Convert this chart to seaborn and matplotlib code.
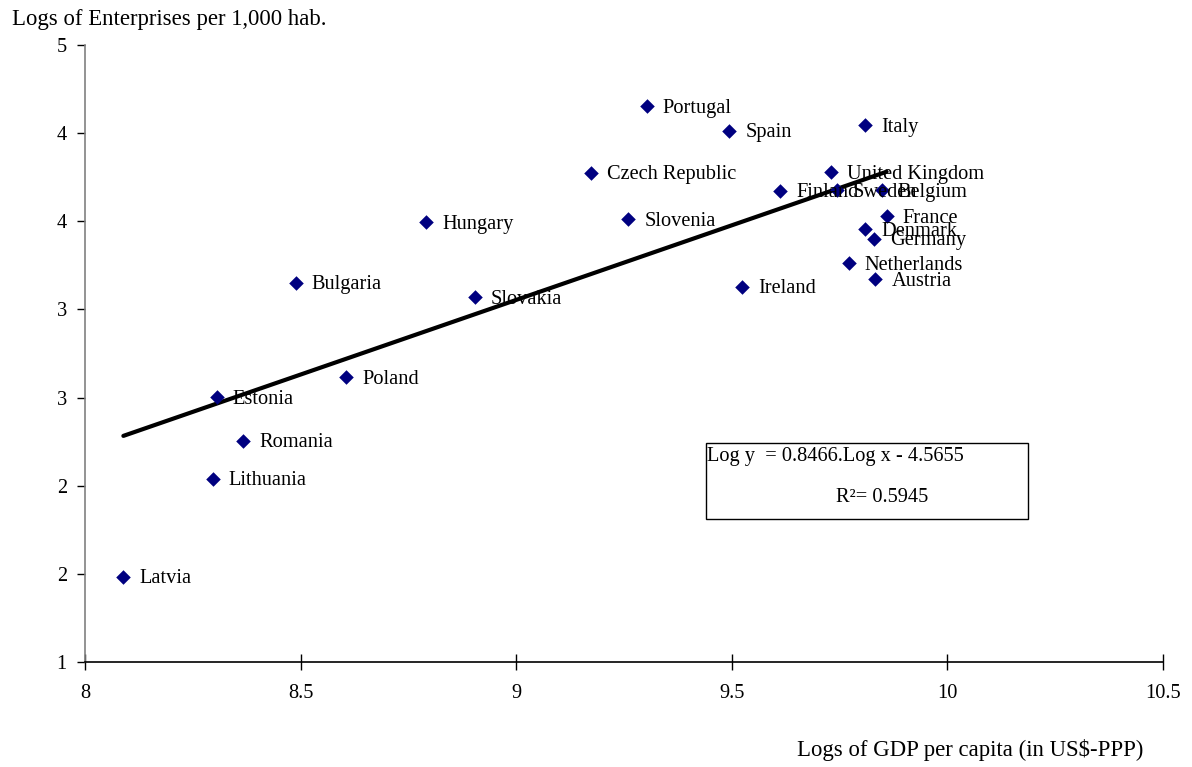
import numpy as np
import pandas as pd
import matplotlib
matplotlib.use("Agg")
import matplotlib.pyplot as plt
from matplotlib.patches import Rectangle
from matplotlib.ticker import FuncFormatter
import seaborn as sns

# data
# ----------------------------
countries = ["Portugal", "Spain", "Italy", "Czech Republic", "United Kingdom",
             "Finland", "Sweden", "Belgium", "France", "Denmark", "Germany",
             "Netherlands", "Austria", "Ireland", "Slovenia", "Hungary",
             "Slovakia", "Bulgaria", "Poland", "Estonia", "Romania",
             "Lithuania", "Latvia"]
log_gdp = [9.303, 9.494, 9.809, 9.173, 9.729, 9.612, 9.744, 9.848, 9.859,
           9.809, 9.830, 9.771, 9.833, 9.524, 9.260, 8.791, 8.904, 8.489,
           8.606, 8.305, 8.367, 8.296, 8.089]
log_ent = [4.154, 4.014, 4.046, 3.775, 3.779, 3.673, 3.677, 3.677, 3.530,
           3.456, 3.401, 3.261, 3.172, 3.129, 3.511, 3.496, 3.069, 3.151,
           2.615, 2.501, 2.255, 2.040, 1.484]

slope = 0.8466
intercept = -4.5655
r2 = 0.5945

x_ticks = [8, 8.5, 9, 9.5, 10, 10.5]
y_ticks = [1, 1.5, 2, 2.5, 3, 3.5, 4, 4.5]

df = pd.DataFrame({"country": countries, "gdp": log_gdp, "ent": log_ent})

# regression line over the range of x
x_min, x_max = df["gdp"].min(), df["gdp"].max()
fit = pd.DataFrame({"gdp": [x_min, x_max]})
fit["ent"] = slope * fit["gdp"] + intercept

# style
# ----------------------------
sns.set_theme(style="white")
plt.rcParams["font.family"] = ["Liberation Serif", "DejaVu Serif"]
plt.rcParams["text.color"] = "black"
plt.rcParams["xtick.color"] = "black"
plt.rcParams["ytick.color"] = "black"
plt.rcParams["xtick.labelcolor"] = "black"
plt.rcParams["ytick.labelcolor"] = "black"
fs = 14.7
fs_title = 16.4

fig = plt.figure(figsize=(11.92, 7.67), dpi=100)
ax = fig.add_axes([85 / 1192, 1 - 662 / 767, (1163 - 85) / 1192, (662 - 45) / 767])

sns.lineplot(data=fit, x="gdp", y="ent", ax=ax, color="black", linewidth=3)
sns.scatterplot(data=df, x="gdp", y="ent", ax=ax, marker="D", s=55,
                color="#000080", edgecolor="#000080", linewidth=0, zorder=3)

for _, row in df.iterrows():
    ax.annotate(row["country"], (row["gdp"], row["ent"]),
                xytext=(11.5, -1.5), textcoords="offset points",
                ha="left", va="center", fontsize=fs, color="black")

ax.set_xlim(8, 10.5)
ax.set_ylim(1, 4.5)
ax.set_xticks(x_ticks)
ax.set_yticks(y_ticks)
ax.xaxis.set_major_formatter(FuncFormatter(lambda v, p: f"{v:g}"))
# excel shows the y labels with no decimals (half rounds up)
ax.yaxis.set_major_formatter(FuncFormatter(lambda v, p: f"{int(np.floor(v + 0.5))}"))
ax.set_xlabel("")
ax.set_ylabel("")

for side in ["top", "right"]:
    ax.spines[side].set_visible(False)
ax.spines["left"].set_color("#808080")
ax.spines["left"].set_linewidth(1.2)
ax.spines["bottom"].set_color("black")
ax.spines["bottom"].set_linewidth(1.2)

ax.tick_params(axis="x", direction="inout", length=12, width=1, color="black",
               labelsize=fs, pad=10, bottom=True)
ax.tick_params(axis="y", direction="out", length=6, width=1, color="black",
               labelsize=fs, pad=7, left=True)

# axis titles
fig.text(12 / 1192, 1 - 20 / 767, "Logs of Enterprises per 1,000 hab.",
         ha="left", va="center", fontsize=fs_title)
fig.text(1143 / 1192, 1 - 750 / 767, "Logs of GDP per capita (in US$-PPP)",
         ha="right", va="center", fontsize=fs_title)

# equation box
fig.add_artist(Rectangle((706 / 1192, 1 - 519 / 767), (1028 - 706) / 1192,
                         (519 - 443) / 767, transform=fig.transFigure,
                         facecolor="white", edgecolor="black", linewidth=1))
fig.text(707 / 1192, 1 - 457 / 767, f"Log y  = {slope}.Log x - {-intercept}",
         ha="left", va="center", fontsize=fs)
fig.text(836 / 1192, 1 - 497 / 767, f"R²= {r2}",
         ha="left", va="center", fontsize=fs)

fig.savefig("out.png", dpi=100)
